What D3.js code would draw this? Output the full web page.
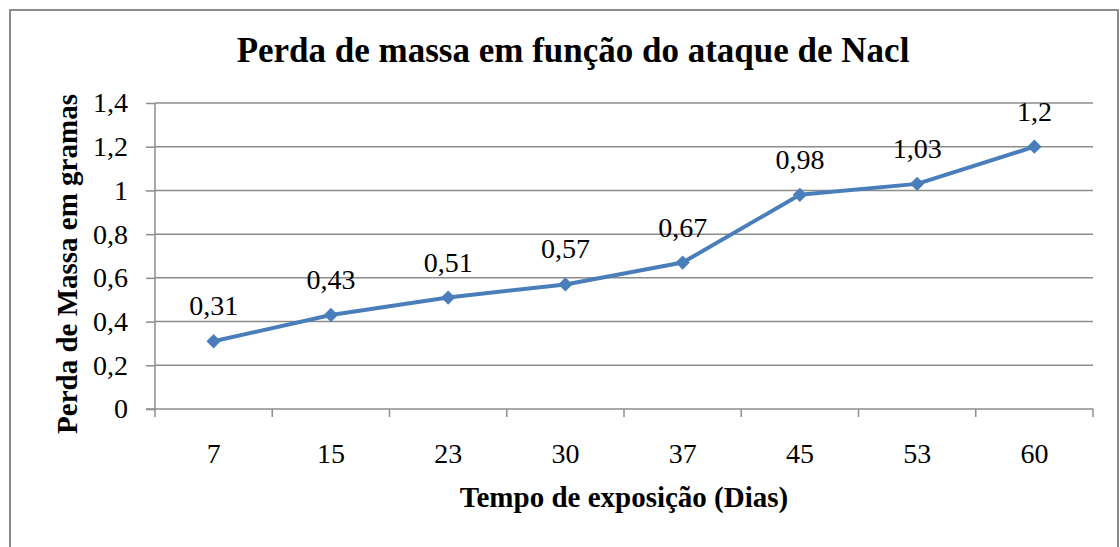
<!DOCTYPE html>
<html>
<head>
<meta charset="utf-8">
<script src="https://cdn.jsdelivr.net/npm/d3@7"></script>
<style>
  body { margin: 0; background: #fff; }
  svg { display: block; font-family: "Liberation Serif", "Times New Roman", serif; }
  .grid line { stroke: #8c8c8c; stroke-width: 1.5; }
  .axis path, .axis line { stroke: #8c8c8c; stroke-width: 1.5; }
  .axis text { font-family: "Liberation Serif", "Times New Roman", serif; font-size: 28px; fill: #000; }
</style>
</head>
<body>
<div id="chart"></div>
<script>
// dados do gráfico
var dias = ['7', '15', '23', '30', '37', '45', '53', '60'];
var perda = [0.31, 0.43, 0.51, 0.57, 0.67, 0.98, 1.03, 1.2];
var yTicks = [0, 0.2, 0.4, 0.6, 0.8, 1, 1.2, 1.4];

var width = 1120, height = 547;
var margin = { left: 155, right: 27, top: 103, bottom: 138 };
var blue = '#4a7ebb';

var svg = d3.select('#chart').append('svg')
  .attr('width', width)
  .attr('height', height);

// moldura do gráfico
svg.append('rect')
  .attr('x', 10).attr('y', 10)
  .attr('width', 1108).attr('height', 545)
  .attr('fill', '#fff')
  .attr('stroke', '#8c8c8c')
  .attr('stroke-width', 2);

var x = d3.scaleBand()
  .domain(dias)
  .range([margin.left, width - margin.right]);

var y = d3.scaleLinear()
  .domain([0, 1.4])
  .range([height - margin.bottom, margin.top]);

var fmt = function (d) { return String(d).replace('.', ','); };

// linhas de grade
svg.append('g')
  .classed('grid', true)
  .selectAll('line')
  .data(yTicks.slice(1))
  .enter()
  .append('line')
  .attr('x1', margin.left)
  .attr('x2', width - margin.right)
  .attr('y1', function (d) { return y(d); })
  .attr('y2', function (d) { return y(d); });

// eixo y
var yAxis = svg.append('g')
  .classed('axis', true)
  .attr('transform', 'translate(' + margin.left + ',0)')
  .call(d3.axisLeft(y).tickValues(yTicks).tickFormat(fmt).tickSize(9).tickSizeOuter(0).tickPadding(18));
yAxis.select('.domain').attr('d', 'M0,' + y(1.4) + 'V' + y(0));
yAxis.selectAll('text').attr('dy', '0.32em');

// eixo x, com marcas nas divisões entre categorias
var xAxis = svg.append('g')
  .classed('axis', true)
  .attr('transform', 'translate(0,' + y(0) + ')');
xAxis.append('line')
  .attr('x1', margin.left - 9)
  .attr('x2', width - margin.right)
  .attr('y1', 0).attr('y2', 0);
var bounds = dias.map(function (d) { return x(d); }).concat([x(dias[dias.length - 1]) + x.bandwidth()]);
xAxis.selectAll('.tk')
  .data(bounds)
  .enter()
  .append('line')
  .attr('x1', function (d) { return d; })
  .attr('x2', function (d) { return d; })
  .attr('y1', 0).attr('y2', 8);
xAxis.selectAll('text')
  .data(dias)
  .enter()
  .append('text')
  .attr('x', function (d) { return x(d) + x.bandwidth() / 2; })
  .attr('y', 54)
  .attr('text-anchor', 'middle')
  .text(function (d) { return d; });

// linha da série
var cx = function (d, i) { return x(dias[i]) + x.bandwidth() / 2; };
var line = d3.line()
  .x(cx)
  .y(function (d) { return y(d); });

svg.append('path')
  .datum(perda)
  .attr('d', line)
  .attr('fill', 'none')
  .attr('stroke', blue)
  .attr('stroke-width', 4)
  .attr('stroke-linejoin', 'round');

// marcadores em losango
svg.append('g')
  .selectAll('path')
  .data(perda)
  .enter()
  .append('path')
  .attr('d', d3.symbol().type(d3.symbolDiamond2).size(130))
  .attr('transform', function (d, i) {
    return 'translate(' + cx(d, i) + ',' + y(d) + ')';
  })
  .attr('fill', blue);

// rótulos de dados
svg.append('g')
  .selectAll('text')
  .data(perda)
  .enter()
  .append('text')
  .attr('x', cx)
  .attr('y', function (d) { return y(d) - 26; })
  .attr('text-anchor', 'middle')
  .attr('font-size', 28)
  .text(fmt);

// títulos
svg.append('text')
  .attr('x', 573)
  .attr('y', 62)
  .attr('text-anchor', 'middle')
  .attr('font-size', 35)
  .attr('font-weight', 'bold')
  .text('Perda de massa em função do ataque de Nacl');

svg.append('text')
  .attr('x', (margin.left + width - margin.right) / 2)
  .attr('y', 507)
  .attr('text-anchor', 'middle')
  .attr('font-size', 29)
  .attr('font-weight', 'bold')
  .text('Tempo de exposição (Dias)');

svg.append('text')
  .attr('transform', 'translate(77,264) rotate(-90)')
  .attr('text-anchor', 'middle')
  .attr('font-size', 29)
  .attr('font-weight', 'bold')
  .text('Perda de Massa em gramas');
</script>
</body>
</html>
